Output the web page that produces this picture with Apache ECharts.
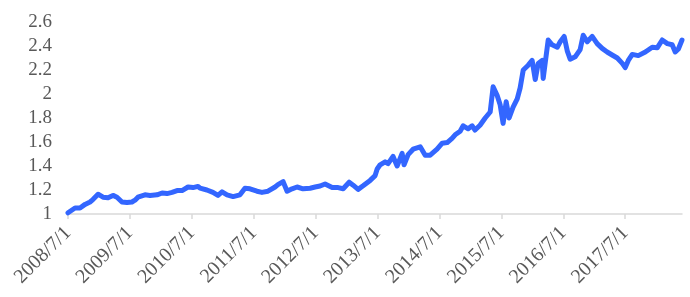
<!DOCTYPE html>
<html>
<head>
<meta charset="utf-8">
<script src="https://cdn.jsdelivr.net/npm/echarts@6/dist/echarts.min.js"></script>
<style>
html,body{margin:0;padding:0;background:#fff;}
#chart{width:690px;height:297px;}
</style>
</head>
<body>
<div id="chart"></div>
<script>
const dates = [
'2008/7/1','2008/8/12','2008/9/11','2008/10/10','2008/11/9','2008/11/26','2008/12/26',
'2009/1/25','2009/2/24','2009/3/23','2009/4/16','2009/5/15','2009/6/14','2009/7/13','2009/7/31',
'2009/8/18','2009/9/29','2009/10/28','2009/12/9','2010/1/8','2010/2/7','2010/3/6','2010/4/5',
'2010/5/4','2010/6/9','2010/7/8','2010/8/7','2010/8/19','2010/9/29','2010/11/4','2010/12/3',
'2010/12/27','2011/1/26','2011/3/1','2011/4/11','2011/5/10','2011/6/9','2011/7/20','2011/8/19',
'2011/9/24','2011/11/5','2011/11/22','2011/12/22','2012/1/15','2012/2/14','2012/3/13','2012/4/18',
'2012/5/29','2012/6/28','2012/7/27','2012/8/26','2012/9/7','2012/10/7','2012/11/12','2012/12/11',
'2013/1/16','2013/2/9','2013/3/8','2013/4/7','2013/5/18','2013/6/17','2013/6/29','2013/7/16',
'2013/8/15','2013/9/2','2013/10/1','2013/10/25','2013/11/24','2013/12/5','2013/12/29','2014/1/28',
'2014/3/9','2014/4/8','2014/5/7','2014/6/17','2014/7/17','2014/8/16','2014/9/14','2014/10/2',
'2014/11/1','2014/11/19','2014/12/18','2015/1/11','2015/1/28','2015/2/27','2015/3/27','2015/4/26',
'2015/5/13','2015/6/6','2015/6/24','2015/7/11','2015/7/29','2015/8/16','2015/9/9','2015/10/3',
'2015/10/20','2015/11/8','2015/12/7','2015/12/30','2016/1/18','2016/2/5','2016/2/28','2016/3/4',
'2016/4/3','2016/4/26','2016/5/26','2016/6/13','2016/7/6','2016/7/24','2016/8/11','2016/9/10',
'2016/10/9','2016/10/27','2016/11/20','2016/12/19','2017/1/18','2017/2/17','2017/3/16','2017/4/15',
'2017/5/15','2017/6/14','2017/7/1','2017/7/19','2017/8/12','2017/9/17','2017/10/28','2017/12/8',
'2018/1/7','2018/2/6','2018/3/6','2018/4/4','2018/4/22','2018/5/10','2018/6/1'
];
const values = [
1.01,1.05,1.05,1.08,1.10,1.12,1.165,
1.14,1.135,1.155,1.14,1.10,1.095,1.10,1.115,
1.14,1.16,1.155,1.16,1.175,1.17,1.18,1.195,
1.195,1.225,1.22,1.23,1.215,1.20,1.18,1.155,
1.185,1.16,1.145,1.16,1.215,1.21,1.19,1.18,
1.19,1.225,1.245,1.27,1.19,1.21,1.225,1.21,
1.215,1.225,1.233,1.25,1.255,1.22,1.22,1.21,
1.265,1.24,1.205,1.235,1.28,1.32,1.375,1.41,
1.435,1.42,1.48,1.40,1.505,1.41,1.495,1.54,
1.56,1.49,1.49,1.54,1.59,1.595,1.63,1.66,
1.69,1.735,1.71,1.735,1.70,1.74,1.80,1.85,
2.06,1.99,1.91,1.755,1.935,1.80,1.89,1.96,
2.05,2.20,2.24,2.28,2.12,2.255,2.28,2.13,
2.45,2.41,2.39,2.435,2.48,2.36,2.29,2.31,
2.37,2.49,2.435,2.48,2.42,2.38,2.35,2.325,
2.30,2.255,2.22,2.28,2.33,2.32,2.35,2.39,
2.385,2.45,2.42,2.41,2.35,2.375,2.45
];
// Month categories for the axis (2008/7/1 ... 2018/6/1), labelled yearly
const startYear = 2008, startMonth = 7, monthCount = 120;
const monthLabels = [];
for (let i = 0; i < monthCount; i++) {
  const t = startMonth - 1 + i;
  monthLabels.push((startYear + Math.floor(t / 12)) + '/' + (t % 12 + 1) + '/1');
}
const yMin = 1, yMax = 2.6, yStep = 0.2;

function monthIndex(s) {
  const p = s.split('/').map(Number);
  return (p[0] - startYear) * 12 + (p[1] - startMonth) + (p[2] - 1) / 30.4;
}
const seriesData = dates.map((d, i) => [monthIndex(d), values[i]]);

const font = 'Liberation Serif, Times New Roman, serif';
const chart = echarts.init(document.getElementById('chart'), null, {renderer: 'canvas'});
chart.setOption({
  animation: false,
  backgroundColor: '#ffffff',
  grid: {left: 68, right: 8, top: 22, bottom: 83, containLabel: false},
  xAxis: [
    {
      type: 'category',
      data: monthLabels,
      boundaryGap: false,
      axisLine: {show: true, lineStyle: {color: '#d9d9d9', width: 1.5}},
      axisTick: {show: true, interval: 11, length: 5, lineStyle: {color: '#d9d9d9', width: 1.5}},
      axisLabel: {interval: 11, rotate: 45, margin: 16, color: '#595959', fontFamily: font, fontSize: 20},
      splitLine: {show: false}
    },
    {
      type: 'value',
      min: 0,
      max: monthCount - 1,
      show: false,
      splitLine: {show: false}
    }
  ],
  yAxis: {
    type: 'value',
    min: yMin,
    max: yMax,
    interval: yStep,
    axisLine: {show: false},
    axisTick: {show: false},
    splitLine: {show: false},
    axisLabel: {margin: 16, color: '#595959', fontFamily: font, fontSize: 19}
  },
  series: [{
    type: 'line',
    xAxisIndex: 1,
    data: seriesData,
    showSymbol: false,
    smooth: false,
    lineStyle: {color: '#3366ff', width: 5, cap: 'round', join: 'round'},
    itemStyle: {color: '#3366ff'}
  }]
});
</script>
</body>
</html>
